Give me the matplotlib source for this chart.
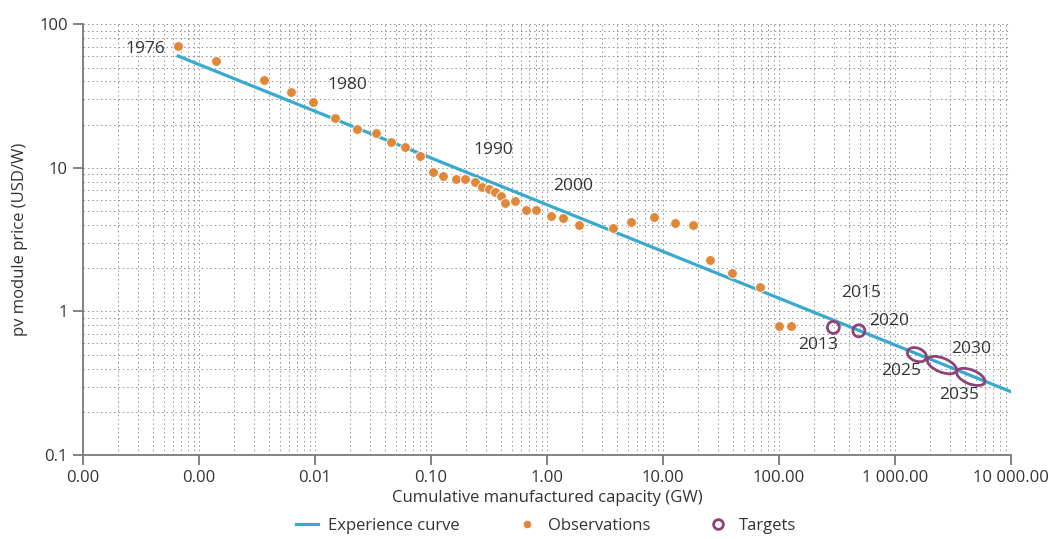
import matplotlib
matplotlib.use("Agg")
import matplotlib.pyplot as plt
import matplotlib.ticker as mticker
import matplotlib.transforms as mtransforms
from matplotlib.patches import Ellipse
from matplotlib.lines import Line2D
import numpy as np

plt.rcParams['font.family'] = ['Open Sans', 'DejaVu Sans']

# observations: cumulative capacity (GW) vs module price (USD/W)
obs_gw = [6.6e-4, 1.39e-3, 3.66e-3, 6.16e-3, 9.6e-3, 0.0148, 0.023, 0.0334,
          0.0453, 0.060, 0.080, 0.104, 0.127, 0.164, 0.196, 0.239, 0.273,
          0.313, 0.356, 0.400, 0.435, 0.532, 0.658, 0.802, 1.09, 1.37, 1.88,
          3.73, 5.30, 8.32, 12.7, 18.2, 25.6, 39.4, 68.7, 99.6, 126]
obs_price = [70.6, 55.5, 40.7, 33.9, 28.7, 22.1, 18.8, 17.6, 15.1, 13.9, 12.1,
             9.30, 8.73, 8.36, 8.36, 7.93, 7.31, 7.12, 6.75, 6.36, 5.66, 5.87,
             5.08, 5.08, 4.59, 4.50, 3.97, 3.82, 4.17, 4.56, 4.14, 3.97, 2.30,
             1.86, 1.48, 0.794, 0.794]

# experience curve end points
curve_gw = [6.6e-4, 1.0e4]
curve_price = [60.1, 0.276]

# targets
target_years = ['2013', '2020', '2025', '2030', '2035']
target_gw = [294, 488, 1545, 2540, 4500]
target_price = [0.774, 0.733, 0.50, 0.423, 0.35]
target_w = [12, 12, 20, 31, 30]   # px
target_h = [12, 12, 13, 14, 14]   # px

# year annotations (label centre)
year_labels = ['1976', '1980', '1990', '2000', '2015', '2020', '2013', '2025', '2030', '2035']
year_gw = [3.46e-4, 0.0191, 0.341, 1.67, 511, 891, 217, 1132, 4540, 3545]
year_price = [67.3, 37.8, 13.3, 7.47, 1.34, 0.855, 0.582, 0.384, 0.546, 0.261]

x_ticks = [1e-4, 1e-3, 1e-2, 1e-1, 1, 10, 100, 1000, 10000]
y_ticks = [0.1, 1, 10, 100]

line_col = '#38a9cf'
dot_col = '#e0873a'
tgt_col = '#8b4478'
txt_col = '#333333'

fig = plt.figure(figsize=(10.54, 5.39), dpi=100)
ax = fig.add_axes([0.0788, 0.1558, 0.8804, 0.7991])
ax.set_xscale('log')
ax.set_yscale('log')
ax.set_xlim(1e-4, 1e4)
ax.set_ylim(0.1, 100)

ax.xaxis.set_major_locator(mticker.FixedLocator(x_ticks))
ax.xaxis.set_minor_locator(mticker.LogLocator(base=10, subs=np.arange(2, 10), numticks=200))
ax.yaxis.set_major_locator(mticker.FixedLocator(y_ticks))
ax.yaxis.set_minor_locator(mticker.LogLocator(base=10, subs=np.arange(2, 10), numticks=200))
ax.xaxis.set_major_formatter(mticker.FuncFormatter(lambda v, p: f"{v:,.2f}".replace(",", " ")))
ax.yaxis.set_major_formatter(mticker.FuncFormatter(lambda v, p: f"{v:g}"))
ax.xaxis.set_minor_formatter(mticker.NullFormatter())
ax.yaxis.set_minor_formatter(mticker.NullFormatter())

ax.grid(which='both', color='#909090', linestyle=(0, (1.5, 3)), linewidth=0.7)
ax.set_axisbelow(True)
for s in ['top', 'right']:
    ax.spines[s].set_visible(False)
for s in ['left', 'bottom']:
    ax.spines[s].set_color('#7a7a7a')
    ax.spines[s].set_linewidth(1.3)
ax.tick_params(which='major', length=7, width=1.3, color='#7a7a7a',
               labelsize=12, labelcolor=txt_col, pad=4)
ax.tick_params(which='minor', length=0)

ax.plot(curve_gw, curve_price, color=line_col, lw=2.3, zorder=2)
ax.plot(obs_gw, obs_price, 'o', color=dot_col, ms=7, mec='white', mew=0.6, zorder=3)

for x, y, w, h in zip(target_gw, target_price, target_w, target_h):
    tr = fig.dpi_scale_trans + mtransforms.ScaledTranslation(x, y, ax.transData)
    ang = 0 if w == h else -22
    ax.add_patch(Ellipse((0, 0), w / 100, h / 100, angle=ang, transform=tr,
                         fill=False, ec=tgt_col, lw=2, zorder=4))

for t, x, y in zip(year_labels, year_gw, year_price):
    ax.text(x, y, t, ha='center', va='center', fontsize=12.5, color=txt_col, zorder=5)

ax.set_xlabel('Cumulative manufactured capacity (GW)', fontsize=12, color=txt_col, labelpad=3)
ax.set_ylabel('pv module price (USD/W)', fontsize=12, color=txt_col, labelpad=8)

handles = [Line2D([], [], color=line_col, lw=2.3),
           Line2D([], [], marker='o', ls='none', color=dot_col, ms=6, mec='white', mew=0.5),
           Line2D([], [], marker='o', ls='none', mfc='none', mec=tgt_col, mew=2, ms=7)]
fig.legend(handles, ['Experience curve', 'Observations', 'Targets'], loc='center',
           bbox_to_anchor=(0.518, 0.024), ncol=3, frameon=False, fontsize=12,
           handlelength=1.3, handletextpad=0.6, columnspacing=3.4, labelcolor=txt_col)

fig.savefig('out.png', dpi=100)
